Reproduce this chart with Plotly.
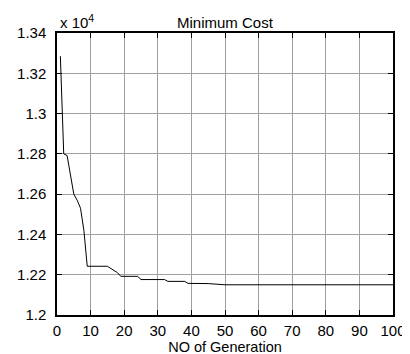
import plotly.graph_objects as go

# Data (generation, minimum cost)
generations = [1, 2, 3, 4, 5, 6, 7, 8, 9, 15, 16, 17, 18, 19, 24, 25, 32, 33, 38, 39, 45, 50, 100]
min_cost = [13285, 12800, 12792, 12700, 12600, 12570, 12530, 12420, 12242, 12242, 12232,
            12222, 12210, 12192, 12192, 12176, 12176, 12167, 12167, 12157, 12156, 12150, 12150]
scale = 1e4
x_ticks = [0, 10, 20, 30, 40, 50, 60, 70, 80, 90, 100]

font = "Liberation Sans, Arial, Helvetica, sans-serif"
fs = 15

fig = go.Figure()
fig.add_trace(go.Scatter(
    x=generations, y=[c / scale for c in min_cost], mode="lines",
    line=dict(color="black", width=1), showlegend=False, hoverinfo="skip"))

axis_common = dict(
    showline=True, linecolor="black", linewidth=1.5, mirror="ticks",
    ticks="inside", ticklen=5, tickcolor="black", tickwidth=1,
    showgrid=True, gridcolor="#a0a0a0", gridwidth=1, zeroline=False,
    automargin=False,
    tickfont=dict(family=font, size=fs, color="black"),
)

fig.update_layout(
    width=410, height=354,
    margin=dict(l=49, r=25, t=25, b=47),
    paper_bgcolor="white", plot_bgcolor="white",
    xaxis=dict(range=[0, 100], tickvals=x_ticks, ticklabelstandoff=1,
               title=dict(text="NO of Generation", font=dict(family=font, size=14.5, color="black"),
                          standoff=0),
               **axis_common),
    yaxis=dict(range=[1.2, 1.34], dtick=0.02, tick0=1.2, ticklabelstandoff=6, **axis_common),
    annotations=[
        dict(text="Minimum Cost", xref="paper", yref="paper", x=0.5, y=1,
             xanchor="center", yanchor="bottom", yshift=0, showarrow=False,
             font=dict(family=font, size=fs, color="black")),
        dict(text="x 10<sup>4</sup>", xref="paper", yref="paper", x=0, y=1,
             xanchor="left", yanchor="bottom", xshift=1, yshift=0, showarrow=False,
             font=dict(family=font, size=fs, color="black")),
    ],
)

fig.write_html("out.html")
